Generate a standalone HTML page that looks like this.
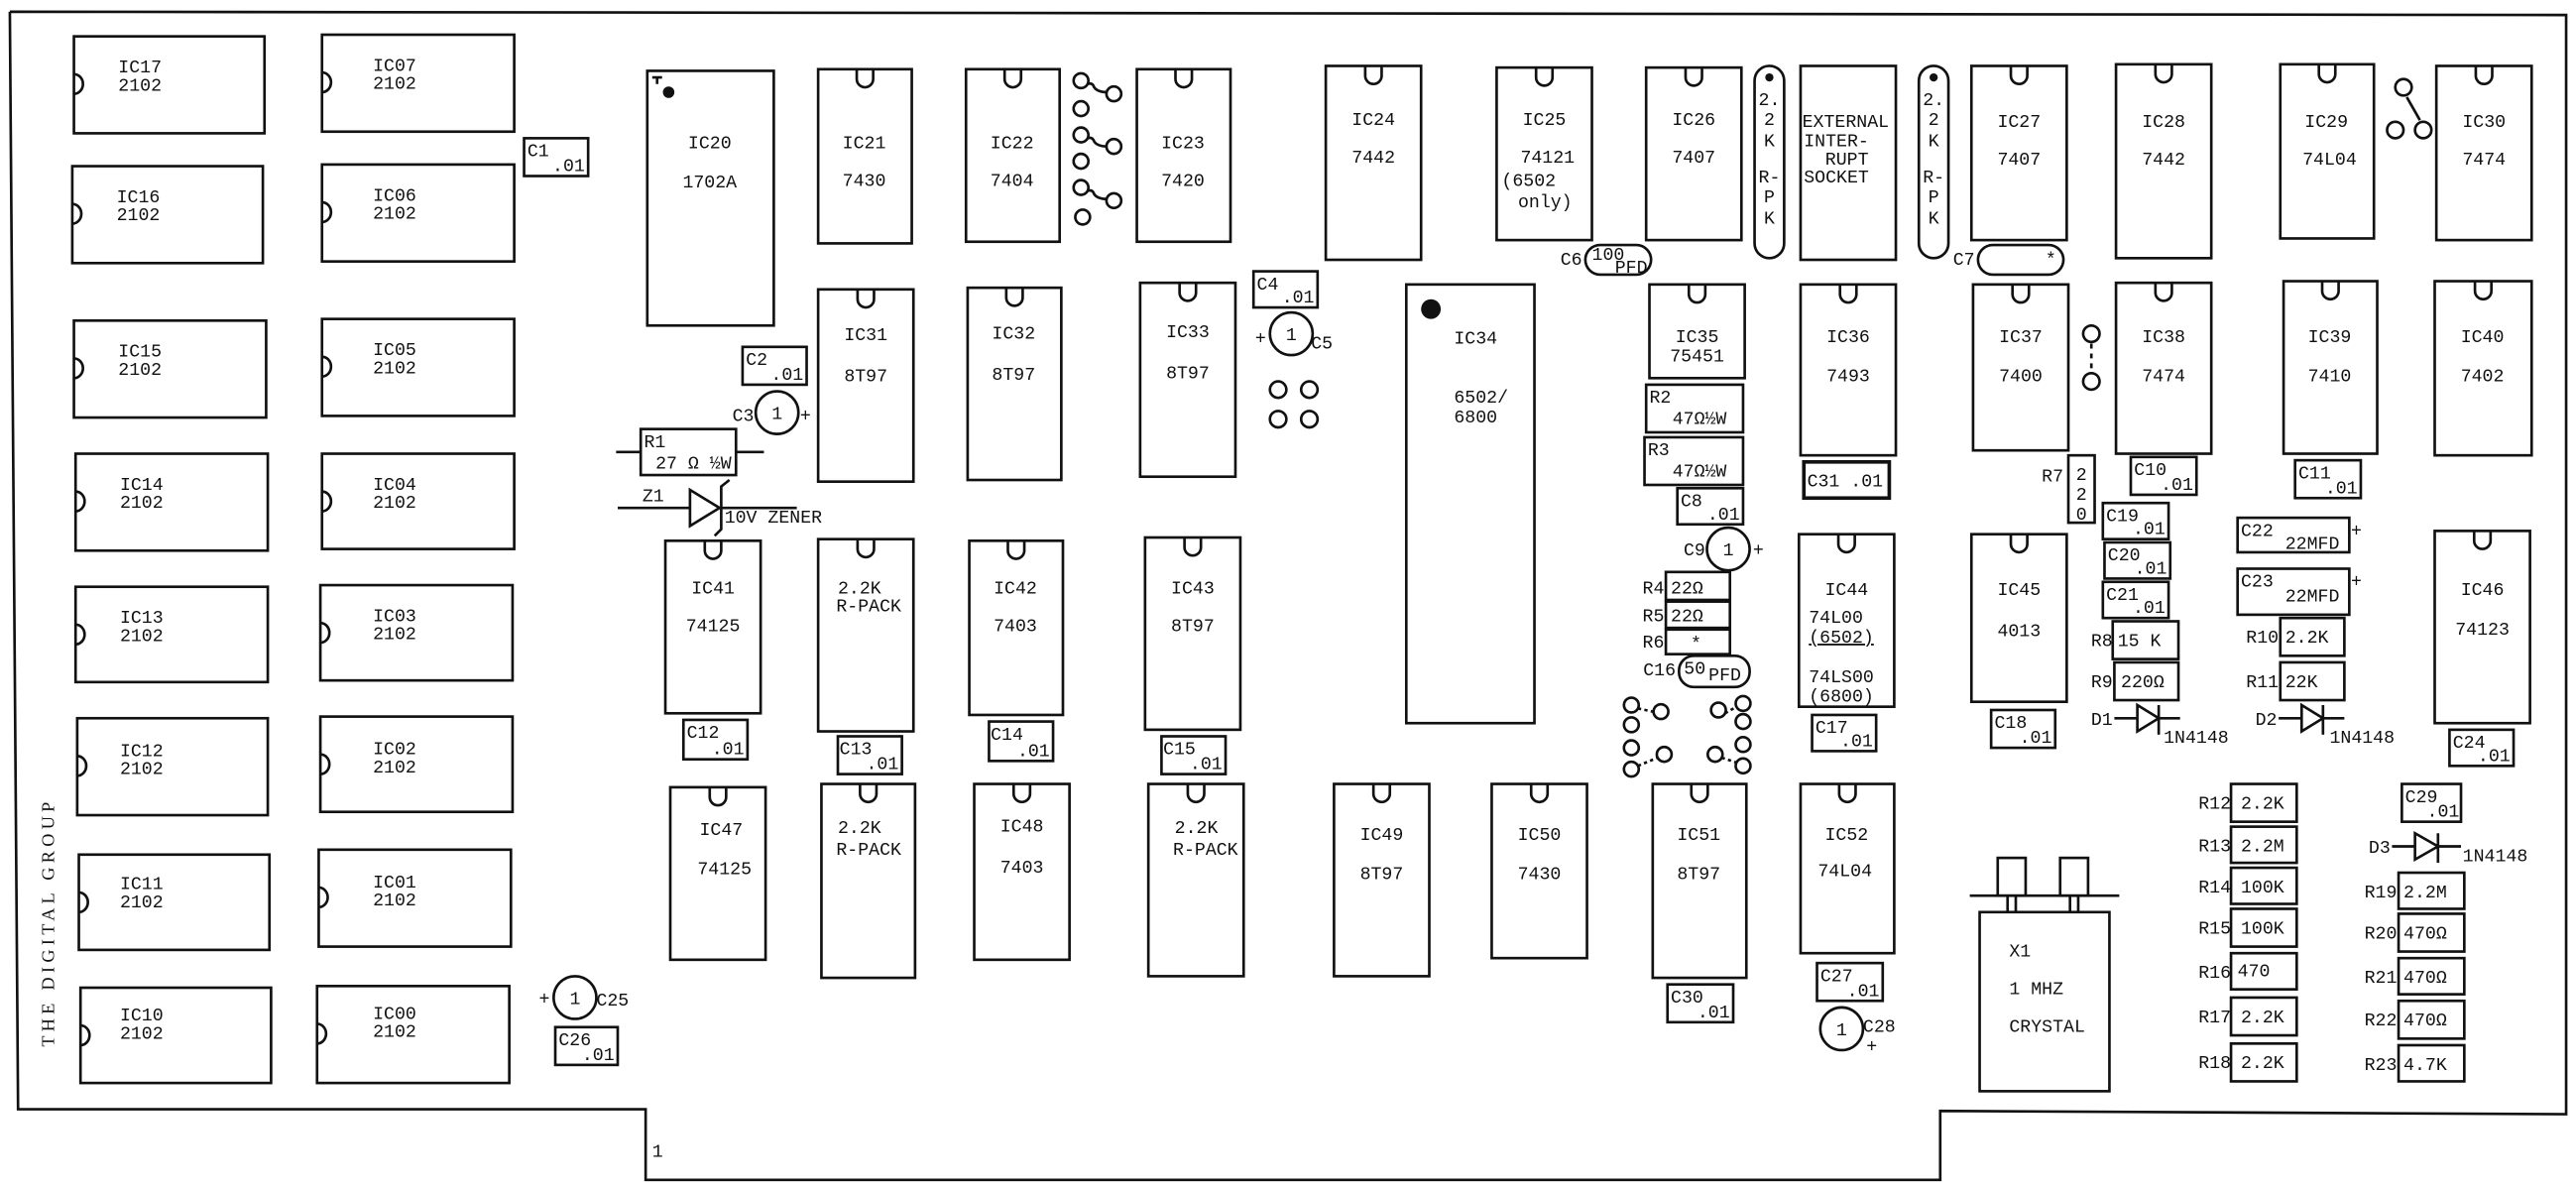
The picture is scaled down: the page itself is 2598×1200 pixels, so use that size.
<!DOCTYPE html>
<html><head><meta charset="utf-8"><style>
html,body{margin:0;padding:0;background:#fff}
svg{display:block}
text{font-family:"Liberation Mono",monospace;font-size:11px;fill:#111}
.s{fill:none;stroke:#111;stroke-width:1.6}
.t{stroke-width:2.2}
.m{text-anchor:middle}
.e{text-anchor:end}
</style></head><body>
<svg width="2598" height="1200" viewBox="0 0 1568 724" xmlns="http://www.w3.org/2000/svg">
<rect x="0" y="0" width="1568" height="724" fill="#fff"/>
<g class="s">
<!-- board outline -->
<polyline points="6,7 1562,9 1562,678 1181,676 1181,718 393,718 393,675 11,675 6,7"/>
<!-- memory chips -->
<rect x="45" y="22" width="116" height="59"/><path d="M45,45 A5.5,6 0 0 1 45,57"/>
<rect x="196" y="21" width="117" height="59"/><path d="M196,44 A5.5,6 0 0 1 196,56"/>
<rect x="44" y="101" width="116" height="59"/><path d="M44,124 A5.5,6 0 0 1 44,136"/>
<rect x="196" y="100" width="117" height="59"/><path d="M196,123 A5.5,6 0 0 1 196,135"/>
<rect x="45" y="195" width="117" height="59"/><path d="M45,218 A5.5,6 0 0 1 45,230"/>
<rect x="196" y="194" width="117" height="59"/><path d="M196,217 A5.5,6 0 0 1 196,229"/>
<rect x="46" y="276" width="117" height="59"/><path d="M46,299 A5.5,6 0 0 1 46,311"/>
<rect x="196" y="276" width="117" height="58"/><path d="M196,299 A5.5,6 0 0 1 196,311"/>
<rect x="46" y="357" width="117" height="58"/><path d="M46,380 A5.5,6 0 0 1 46,392"/>
<rect x="195" y="356" width="117" height="58"/><path d="M195,379 A5.5,6 0 0 1 195,391"/>
<rect x="47" y="437" width="116" height="59"/><path d="M47,460 A5.5,6 0 0 1 47,472"/>
<rect x="195" y="436" width="117" height="58"/><path d="M195,459 A5.5,6 0 0 1 195,471"/>
<rect x="48" y="520" width="116" height="58"/><path d="M48,543 A5.5,6 0 0 1 48,555"/>
<rect x="194" y="517" width="117" height="59"/><path d="M194,540 A5.5,6 0 0 1 194,552"/>
<rect x="49" y="601" width="116" height="58"/><path d="M49,624 A5.5,6 0 0 1 49,636"/>
<rect x="193" y="600" width="117" height="59"/><path d="M193,623 A5.5,6 0 0 1 193,635"/>

<!-- DIP chips -->
<rect x="394" y="43" width="77" height="155"/>
<rect x="498" y="42" width="57" height="106"/><path d="M521.5,42 v6 a5,5 0 0 0 10,0 v-6"/>
<rect x="588" y="42" width="57" height="105"/><path d="M611.5,42 v6 a5,5 0 0 0 10,0 v-6"/>
<rect x="692" y="42" width="57" height="105"/><path d="M715.5,42 v6 a5,5 0 0 0 10,0 v-6"/>
<rect x="807" y="40" width="58" height="118"/><path d="M831,40 v6 a5,5 0 0 0 10,0 v-6"/>
<rect x="911" y="41" width="58" height="105"/><path d="M935,41 v6 a5,5 0 0 0 10,0 v-6"/>
<rect x="1002" y="41" width="58" height="105"/><path d="M1026,41 v6 a5,5 0 0 0 10,0 v-6"/>
<rect x="1096" y="40" width="58" height="118"/>
<rect x="1200" y="40" width="58" height="106"/><path d="M1224,40 v6 a5,5 0 0 0 10,0 v-6"/>
<rect x="1288" y="39" width="58" height="118"/><path d="M1312,39 v6 a5,5 0 0 0 10,0 v-6"/>
<rect x="1388" y="39" width="57" height="106"/><path d="M1411.5,39 v6 a5,5 0 0 0 10,0 v-6"/>
<rect x="1483" y="40" width="58" height="106"/><path d="M1507,40 v6 a5,5 0 0 0 10,0 v-6"/>
<rect x="498" y="176" width="58" height="117"/><path d="M522,176 v6 a5,5 0 0 0 10,0 v-6"/>
<rect x="589" y="175" width="57" height="117"/><path d="M612.5,175 v6 a5,5 0 0 0 10,0 v-6"/>
<rect x="694" y="172" width="58" height="118"/><path d="M718,172 v6 a5,5 0 0 0 10,0 v-6"/>
<rect x="856" y="173" width="78" height="267"/>
<rect x="1004" y="173" width="58" height="57"/><path d="M1028,173 v6 a5,5 0 0 0 10,0 v-6"/>
<rect x="1096" y="173" width="58" height="104"/><path d="M1120,173 v6 a5,5 0 0 0 10,0 v-6"/>
<rect x="1201" y="173" width="58" height="101"/><path d="M1225,173 v6 a5,5 0 0 0 10,0 v-6"/>
<rect x="1288" y="172" width="58" height="104"/><path d="M1312,172 v6 a5,5 0 0 0 10,0 v-6"/>
<rect x="1390" y="171" width="57" height="105"/><path d="M1413.5,171 v6 a5,5 0 0 0 10,0 v-6"/>
<rect x="1482" y="171" width="59" height="106"/><path d="M1506.5,171 v6 a5,5 0 0 0 10,0 v-6"/>
<rect x="405" y="329" width="58" height="105"/><path d="M429,329 v6 a5,5 0 0 0 10,0 v-6"/>
<rect x="498" y="328" width="58" height="117"/><path d="M522,328 v6 a5,5 0 0 0 10,0 v-6"/>
<rect x="590" y="329" width="57" height="106"/><path d="M613.5,329 v6 a5,5 0 0 0 10,0 v-6"/>
<rect x="697" y="327" width="58" height="117"/><path d="M721,327 v6 a5,5 0 0 0 10,0 v-6"/>
<rect x="1095" y="325" width="58" height="105"/><path d="M1119,325 v6 a5,5 0 0 0 10,0 v-6"/>
<rect x="1200" y="325" width="58" height="102"/><path d="M1224,325 v6 a5,5 0 0 0 10,0 v-6"/>
<rect x="1482" y="323" width="58" height="117"/><path d="M1506,323 v6 a5,5 0 0 0 10,0 v-6"/>
<rect x="408" y="479" width="58" height="105"/><path d="M432,479 v6 a5,5 0 0 0 10,0 v-6"/>
<rect x="500" y="477" width="57" height="118"/><path d="M523.5,477 v6 a5,5 0 0 0 10,0 v-6"/>
<rect x="593" y="477" width="58" height="107"/><path d="M617,477 v6 a5,5 0 0 0 10,0 v-6"/>
<rect x="699" y="477" width="58" height="117"/><path d="M723,477 v6 a5,5 0 0 0 10,0 v-6"/>
<rect x="812" y="477" width="58" height="117"/><path d="M836,477 v6 a5,5 0 0 0 10,0 v-6"/>
<rect x="908" y="477" width="58" height="106"/><path d="M932,477 v6 a5,5 0 0 0 10,0 v-6"/>
<rect x="1006" y="477" width="57" height="118"/><path d="M1029.5,477 v6 a5,5 0 0 0 10,0 v-6"/>
<rect x="1096" y="477" width="57" height="103"/><path d="M1119.5,477 v6 a5,5 0 0 0 10,0 v-6"/>

<!-- RPK ovals -->
<rect x="1068" y="40" width="18" height="117" rx="9"/>
<rect x="1168" y="40" width="18" height="117" rx="9"/>
<!-- C6 C7 C16 ovals -->
<rect x="965" y="149" width="40" height="18" rx="9"/>
<rect x="1204" y="149" width="52" height="18" rx="9"/>
<rect x="1022" y="399" width="43" height="19" rx="9"/>

<!-- cap boxes -->
<rect x="319" y="84" width="39" height="23"/>
<rect x="452" y="211" width="39" height="23"/>
<rect x="763" y="165" width="39" height="22"/>
<rect x="1021" y="297" width="40" height="22"/>
<rect x="1297" y="278" width="40" height="23"/>
<rect x="1397" y="280" width="40" height="23"/>
<rect x="416" y="438" width="39" height="24"/>
<rect x="510" y="448" width="39" height="23"/>
<rect x="602" y="439" width="39" height="24"/>
<rect x="707" y="448" width="39" height="23"/>
<rect x="1103" y="435" width="39" height="22"/>
<rect x="1212" y="432" width="39" height="23"/>
<rect x="1280" y="306" width="40" height="22"/>
<rect x="1281" y="330" width="40" height="22"/>
<rect x="1280" y="354" width="40" height="22"/>
<rect x="1491" y="444" width="39" height="22"/>
<rect x="338" y="625" width="38" height="23"/>
<rect x="1106" y="586" width="40" height="23"/>
<rect x="1462" y="477" width="36" height="23"/>
<rect x="1015" y="599" width="40" height="23"/>
<rect class="s t" x="1098" y="281" width="52" height="22"/>
<rect x="1362" y="315" width="68" height="21"/>
<rect x="1362" y="346" width="68" height="28"/>

<!-- resistors -->
<rect x="1002" y="234" width="59" height="29"/>
<rect x="1001" y="266" width="60" height="29"/>
<rect x="1014" y="348" width="39" height="17"/>
<rect x="1014" y="366" width="39" height="16"/>
<rect x="1014" y="383" width="39" height="15"/>
<rect x="1259" y="277" width="16" height="41"/>
<rect x="1286" y="378" width="40" height="23"/>
<rect x="1287" y="403" width="39" height="23"/>
<rect x="1388" y="376" width="39" height="23"/>
<rect x="1388" y="403" width="39" height="23"/>
<rect x="1358" y="477" width="40" height="23"/>
<rect x="1358" y="503" width="40" height="22"/>
<rect x="1358" y="528" width="40" height="22"/>
<rect x="1358" y="553" width="40" height="23"/>
<rect x="1358" y="580" width="40" height="22"/>
<rect x="1358" y="607" width="40" height="23"/>
<rect x="1358" y="635" width="40" height="23"/>
<rect x="1460" y="531" width="40" height="22"/>
<rect x="1460" y="556" width="40" height="23"/>
<rect x="1460" y="583" width="40" height="22"/>
<rect x="1460" y="609" width="40" height="23"/>
<rect x="1460" y="636" width="40" height="22"/>
<!-- R1 -->
<rect x="390" y="261" width="58" height="28"/>
<line x1="375" y1="275" x2="390" y2="275"/><line x1="448" y1="275" x2="465" y2="275"/>
<!-- Z1 -->
<line x1="376" y1="309" x2="420" y2="309"/>
<path d="M420,298 L438,309 L420,320 Z"/>
<path d="M444,292 L439,296 L439,322 L435,326"/>
<line x1="439" y1="309" x2="485" y2="309"/>

<!-- round caps -->
<circle cx="473" cy="251" r="13"/>
<circle cx="786" cy="203" r="13"/>
<circle cx="1052" cy="334" r="13"/>
<circle cx="350" cy="607" r="13"/>
<circle cx="1121" cy="626" r="13"/>

<!-- small pads -->
<circle cx="778" cy="237" r="5"/><circle cx="797" cy="237" r="5"/>
<circle cx="778" cy="255" r="5"/><circle cx="797" cy="255" r="5"/>
<circle cx="658" cy="49" r="4.5"/><circle cx="678" cy="57" r="4.5"/>
<circle cx="658" cy="66" r="4.5"/><circle cx="658" cy="82" r="4.5"/>
<circle cx="678" cy="89" r="4.5"/><circle cx="658" cy="98" r="4.5"/>
<circle cx="658" cy="114" r="4.5"/><circle cx="678" cy="122" r="4.5"/>
<circle cx="659" cy="132" r="4.5"/>
<path d="M662,51 q3,-1 4,2 q2,3 8,3"/><path d="M662,84 q3,-1 4,2 q2,3 8,3"/><path d="M662,116 q3,-1 4,2 q2,3 8,3"/>
<circle cx="1463" cy="53" r="5"/><circle cx="1458" cy="79" r="5"/><circle cx="1475" cy="79" r="5"/>
<line x1="1465" y1="59" x2="1473" y2="73"/>
<circle cx="1273" cy="203" r="5"/><circle cx="1273" cy="232" r="5"/>
<line x1="1273" y1="209" x2="1273" y2="226" stroke-dasharray="3,3"/>
<circle cx="993" cy="429" r="4.5"/><circle cx="1011" cy="433" r="4.5"/><circle cx="993" cy="441" r="4.5"/>
<circle cx="993" cy="455" r="4.5"/><circle cx="1013" cy="459" r="4.5"/><circle cx="993" cy="468" r="4.5"/>
<circle cx="1046" cy="432" r="4.5"/><circle cx="1061" cy="428" r="4.5"/><circle cx="1061" cy="439" r="4.5"/>
<circle cx="1061" cy="453" r="4.5"/><circle cx="1044" cy="459" r="4.5"/><circle cx="1061" cy="466" r="4.5"/>
<path d="M997,431 l9,2 M997,466 l12,-5 M1050,434 l7,-4 M1048,461 l9,3" stroke-dasharray="2,2"/>

<!-- diodes -->
<line x1="1287" y1="437" x2="1301" y2="437"/><path d="M1301,429 L1314,437 L1301,445 Z"/><line x1="1314" y1="429" x2="1314" y2="447"/><line x1="1314" y1="437" x2="1327" y2="437"/>
<line x1="1387" y1="437" x2="1401" y2="437"/><path d="M1401,429 L1414,437 L1401,445 Z"/><line x1="1414" y1="429" x2="1414" y2="447"/><line x1="1414" y1="437" x2="1427" y2="437"/>
<line x1="1456" y1="515" x2="1470" y2="515"/><path d="M1470,507 L1484,515 L1470,523 Z"/><line x1="1484" y1="507" x2="1484" y2="525"/><line x1="1484" y1="515" x2="1498" y2="515"/>

<!-- crystal -->
<rect x="1205" y="555" width="79" height="109"/>
<rect x="1216" y="522" width="17" height="23"/>
<rect x="1254" y="522" width="17" height="23"/>
<line x1="1199" y1="545" x2="1290" y2="545"/>
<line x1="1222" y1="545" x2="1222" y2="555"/><line x1="1227" y1="545" x2="1227" y2="555"/>
<line x1="1260" y1="545" x2="1260" y2="555"/><line x1="1265" y1="545" x2="1265" y2="555"/>
<!-- IC20 pin1 tick -->
<path d="M397,47 h6 M400,47 v4"/>
</g>
<circle cx="407" cy="56" r="3.5" fill="#111"/>
<circle cx="871" cy="188" r="6" fill="#111"/>
<circle cx="1077" cy="47" r="2.5" fill="#111"/>
<circle cx="1177" cy="47" r="2.5" fill="#111"/>

<!-- memory chip labels -->
<text x="72" y="44">IC17</text><text x="72" y="55">2102</text>
<text x="227" y="43">IC07</text><text x="227" y="54">2102</text>
<text x="71" y="123">IC16</text><text x="71" y="134">2102</text>
<text x="227" y="122">IC06</text><text x="227" y="133">2102</text>
<text x="72" y="217">IC15</text><text x="72" y="228">2102</text>
<text x="227" y="216">IC05</text><text x="227" y="227">2102</text>
<text x="73" y="298">IC14</text><text x="73" y="309">2102</text>
<text x="227" y="298">IC04</text><text x="227" y="309">2102</text>
<text x="73" y="379">IC13</text><text x="73" y="390">2102</text>
<text x="227" y="378">IC03</text><text x="227" y="389">2102</text>
<text x="73" y="460">IC12</text><text x="73" y="471">2102</text>
<text x="227" y="459">IC02</text><text x="227" y="470">2102</text>
<text x="73" y="541">IC11</text><text x="73" y="552">2102</text>
<text x="227" y="540">IC01</text><text x="227" y="551">2102</text>
<text x="73" y="621">IC10</text><text x="73" y="632">2102</text>
<text x="227" y="620">IC00</text><text x="227" y="631">2102</text>

<!-- DIP labels -->
<text class="m" x="432" y="90">IC20</text><text class="m" x="432" y="114">1702A</text>
<text class="m" x="526" y="90">IC21</text><text class="m" x="526" y="113">7430</text>
<text class="m" x="616" y="90">IC22</text><text class="m" x="616" y="113">7404</text>
<text class="m" x="720" y="90">IC23</text><text class="m" x="720" y="113">7420</text>
<text class="m" x="836" y="76">IC24</text><text class="m" x="836" y="99">7442</text>
<text class="m" x="940" y="76">IC25</text><text class="m" x="942" y="99">74121</text>
<text x="914" y="113">(6502</text><text x="924" y="126">only)</text>
<text class="m" x="1031" y="76">IC26</text><text class="m" x="1031" y="99">7407</text>
<text x="1097" y="77">EXTERNAL</text><text x="1098" y="89">INTER-</text><text x="1111" y="100">RUPT</text><text x="1098" y="111">SOCKET</text>
<text class="m" x="1229" y="77">IC27</text><text class="m" x="1229" y="100">7407</text>
<text class="m" x="1317" y="77">IC28</text><text class="m" x="1317" y="100">7442</text>
<text class="m" x="1416" y="77">IC29</text><text class="m" x="1418" y="100">74L04</text>
<text class="m" x="1512" y="77">IC30</text><text class="m" x="1512" y="100">7474</text>
<text class="m" x="1077" y="64">2.</text><text class="m" x="1077" y="76">2</text><text class="m" x="1077" y="89">K</text>
<text class="m" x="1077" y="111">R-</text><text class="m" x="1077" y="123">P</text><text class="m" x="1077" y="136">K</text>
<text class="m" x="1177" y="64">2.</text><text class="m" x="1177" y="76">2</text><text class="m" x="1177" y="89">K</text>
<text class="m" x="1177" y="111">R-</text><text class="m" x="1177" y="123">P</text><text class="m" x="1177" y="136">K</text>
<text class="m" x="527" y="207">IC31</text><text class="m" x="527" y="232">8T97</text>
<text class="m" x="617" y="206">IC32</text><text class="m" x="617" y="231">8T97</text>
<text class="m" x="723" y="205">IC33</text><text class="m" x="723" y="230">8T97</text>
<text x="885" y="209">IC34</text><text x="885" y="245">6502/</text><text x="885" y="257">6800</text>
<text class="m" x="1033" y="208">IC35</text><text class="m" x="1033" y="220">75451</text>
<text class="m" x="1125" y="208">IC36</text><text class="m" x="1125" y="232">7493</text>
<text class="m" x="1230" y="208">IC37</text><text class="m" x="1230" y="232">7400</text>
<text class="m" x="1317" y="208">IC38</text><text class="m" x="1317" y="232">7474</text>
<text class="m" x="1418" y="208">IC39</text><text class="m" x="1418" y="232">7410</text>
<text class="m" x="1511" y="208">IC40</text><text class="m" x="1511" y="232">7402</text>
<text class="m" x="434" y="361">IC41</text><text class="m" x="434" y="384">74125</text>
<text x="510" y="361">2.2K</text><text x="509" y="372">R-PACK</text>
<text class="m" x="618" y="361">IC42</text><text class="m" x="618" y="384">7403</text>
<text class="m" x="726" y="361">IC43</text><text class="m" x="726" y="384">8T97</text>
<text class="m" x="1124" y="362">IC44</text>
<text x="1101" y="379">74L00</text><text x="1101" y="391" text-decoration="underline">(6502)</text>
<text x="1101" y="415">74LS00</text><text x="1101" y="427">(6800)</text>
<text class="m" x="1229" y="362">IC45</text><text class="m" x="1229" y="387">4013</text>
<text class="m" x="1511" y="362">IC46</text><text class="m" x="1511" y="386">74123</text>
<text class="m" x="439" y="508">IC47</text><text class="m" x="441" y="532">74125</text>
<text x="510" y="507">2.2K</text><text x="509" y="520">R-PACK</text>
<text class="m" x="622" y="506">IC48</text><text class="m" x="622" y="531">7403</text>
<text x="715" y="507">2.2K</text><text x="714" y="520">R-PACK</text>
<text class="m" x="841" y="511">IC49</text><text class="m" x="841" y="535">8T97</text>
<text class="m" x="937" y="511">IC50</text><text class="m" x="937" y="535">7430</text>
<text class="m" x="1034" y="511">IC51</text><text class="m" x="1034" y="535">8T97</text>
<text class="m" x="1124" y="511">IC52</text><text class="m" x="1123" y="533">74L04</text>

<!-- cap labels -->
<text x="321" y="95">C1</text><text class="e" x="356" y="104">.01</text>
<text x="454" y="222">C2</text><text class="e" x="489" y="231">.01</text>
<text x="765" y="176">C4</text><text class="e" x="800" y="184">.01</text>
<text x="1023" y="308">C8</text><text class="e" x="1059" y="316">.01</text>
<text x="1299" y="289">C10</text><text class="e" x="1335" y="298">.01</text>
<text x="1399" y="291">C11</text><text class="e" x="1435" y="300">.01</text>
<text x="418" y="449">C12</text><text class="e" x="453" y="459">.01</text>
<text x="511" y="459">C13</text><text class="e" x="547" y="468">.01</text>
<text x="603" y="450">C14</text><text class="e" x="639" y="460">.01</text>
<text x="708" y="459">C15</text><text class="e" x="744" y="468">.01</text>
<text x="1105" y="446">C17</text><text class="e" x="1140" y="454">.01</text>
<text x="1214" y="443">C18</text><text class="e" x="1249" y="452">.01</text>
<text x="1282" y="317">C19</text><text class="e" x="1318" y="325">.01</text>
<text x="1283" y="341">C20</text><text class="e" x="1319" y="349">.01</text>
<text x="1282" y="365">C21</text><text class="e" x="1318" y="373">.01</text>
<text x="1493" y="455">C24</text><text class="e" x="1528" y="463">.01</text>
<text x="340" y="636">C26</text><text class="e" x="374" y="645">.01</text>
<text x="1108" y="597">C27</text><text class="e" x="1144" y="606">.01</text>
<text x="1464" y="488">C29</text><text class="e" x="1497" y="497">.01</text>
<text x="1017" y="610">C30</text><text class="e" x="1053" y="619">.01</text>
<text x="1100" y="296">C31 .01</text>
<text x="1364" y="326">C22</text><text class="e" x="1424" y="334">22MFD</text><text x="1431" y="326">+</text>
<text x="1364" y="357">C23</text><text class="e" x="1424" y="366">22MFD</text><text x="1431" y="357">+</text>
<text class="e" x="963" y="161">C6</text><text x="969" y="158" font-size="10">100</text><text x="983" y="166" font-size="10">PFD</text>
<text class="e" x="1202" y="161">C7</text><text x="1245" y="161">*</text>
<text class="e" x="1020" y="411">C16</text><text x="1025" y="410">50</text><text x="1040" y="414" font-size="10">PFD</text>
<text class="m" x="473" y="255">1</text><text class="e" x="459" y="256">C3</text><text x="487" y="256">+</text>
<text class="m" x="786" y="207">1</text><text x="764" y="209">+</text><text x="798" y="212">C5</text>
<text class="m" x="1052" y="338">1</text><text class="e" x="1038" y="338">C9</text><text x="1067" y="338">+</text>
<text class="m" x="350" y="611">1</text><text x="328" y="611">+</text><text x="363" y="612">C25</text>
<text class="m" x="1121" y="630">1</text><text x="1134" y="628">C28</text><text x="1136" y="640">+</text>

<!-- resistor labels -->
<text x="392" y="272">R1</text><text x="399" y="285">27 Ω ½W</text>
<text x="391" y="305">Z1</text><text x="441" y="318">10V ZENER</text>
<text x="1004" y="245">R2</text><text x="1018" y="258">47Ω½W</text>
<text x="1003" y="277">R3</text><text x="1018" y="290">47Ω½W</text>
<text class="e" x="1013" y="361">R4</text><text x="1017" y="361">22Ω</text>
<text class="e" x="1013" y="378">R5</text><text x="1017" y="378">22Ω</text>
<text class="e" x="1013" y="394">R6</text><text x="1029" y="395" font-size="13">*</text>
<text class="e" x="1256" y="293">R7</text>
<text class="m" x="1267" y="292">2</text><text class="m" x="1267" y="304">2</text><text class="m" x="1267" y="316">0</text>
<text class="e" x="1286" y="393">R8</text><text x="1289" y="393">15 K</text>
<text class="e" x="1286" y="418">R9</text><text x="1291" y="418">220Ω</text>
<text class="e" x="1387" y="391">R10</text><text x="1391" y="391">2.2K</text>
<text class="e" x="1387" y="418">R11</text><text x="1391" y="418">22K</text>
<text class="e" x="1286" y="441">D1</text><text x="1317" y="452">1N4148</text>
<text class="e" x="1386" y="441">D2</text><text x="1418" y="452">1N4148</text>
<text class="e" x="1455" y="519">D3</text><text x="1499" y="524">1N4148</text>
<text class="e" x="1358" y="492">R12</text><text x="1364" y="492">2.2K</text>
<text class="e" x="1358" y="518">R13</text><text x="1364" y="518">2.2M</text>
<text class="e" x="1358" y="543">R14</text><text x="1364" y="543">100K</text>
<text class="e" x="1358" y="568">R15</text><text x="1364" y="568">100K</text>
<text class="e" x="1358" y="595">R16</text><text x="1362" y="594">470</text>
<text class="e" x="1358" y="622">R17</text><text x="1364" y="622">2.2K</text>
<text class="e" x="1358" y="650">R18</text><text x="1364" y="650">2.2K</text>
<text class="e" x="1459" y="546">R19</text><text x="1463" y="546">2.2M</text>
<text class="e" x="1459" y="571">R20</text><text x="1463" y="571">470Ω</text>
<text class="e" x="1459" y="598">R21</text><text x="1463" y="598">470Ω</text>
<text class="e" x="1459" y="624">R22</text><text x="1463" y="624">470Ω</text>
<text class="e" x="1459" y="651">R23</text><text x="1463" y="651">4.7K</text>
<text x="1223" y="582">X1</text><text x="1223" y="605">1 MHZ</text><text x="1223" y="628">CRYSTAL</text>
<text x="397" y="704">1</text>
<text transform="translate(33,637) rotate(-90)" style="font-family:'Liberation Serif',serif;font-size:11px;letter-spacing:2.6px">THE DIGITAL GROUP</text>
</svg>
</body></html>
